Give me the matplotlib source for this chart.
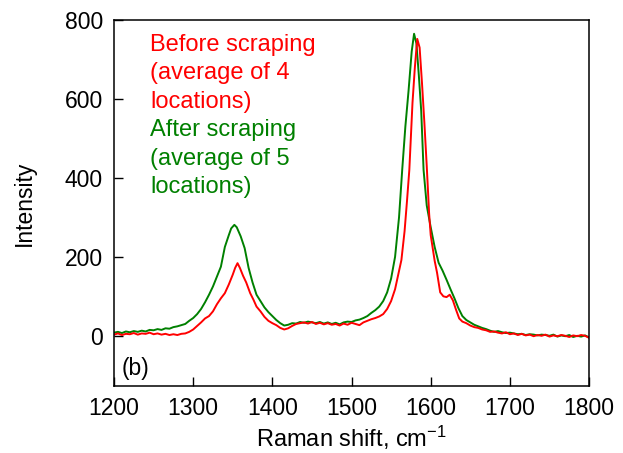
import matplotlib
matplotlib.use("Agg")
import matplotlib.pyplot as plt

plt.rcParams['font.family'] = ['Liberation Sans', 'DejaVu Sans']
plt.rcParams['mathtext.fontset'] = 'custom'
plt.rcParams['mathtext.rm'] = 'Liberation Sans'
plt.rcParams['mathtext.it'] = 'Liberation Sans'

# after scraping (average of 5 locations)
shift_after = [1200, 1205, 1210, 1215, 1220, 1225, 1230, 1235, 1240, 1245,
               1250, 1255, 1260, 1265, 1270, 1275, 1280, 1285, 1290, 1295,
               1300, 1305, 1310, 1315, 1320, 1325, 1330, 1335, 1340, 1345,
               1348, 1352, 1355, 1360, 1365, 1370, 1375, 1380, 1385, 1390,
               1395, 1400, 1405, 1410, 1415, 1420, 1425, 1430, 1435, 1440,
               1445, 1450, 1455, 1460, 1465, 1470, 1475, 1480, 1485, 1490,
               1495, 1500, 1505, 1510, 1515, 1520, 1525, 1530, 1535, 1540,
               1545, 1550, 1555, 1560, 1564, 1568, 1572, 1576, 1579, 1582,
               1585, 1588, 1591, 1595, 1600, 1605, 1610, 1615, 1620, 1625,
               1630, 1635, 1640, 1645, 1650, 1655, 1660, 1665, 1670, 1675,
               1680, 1685, 1690, 1695, 1700, 1705, 1710, 1715, 1720, 1725,
               1730, 1735, 1740, 1745, 1750, 1755, 1760, 1765, 1770, 1775,
               1780, 1785, 1790, 1795, 1800]
int_after = [8, 10, 7, 11, 9, 12, 10, 13, 11, 15,
             14, 17, 15, 19, 18, 22, 24, 27, 30, 38,
             45, 55, 68, 85, 104, 125, 150, 175, 225, 255,
             272, 281, 275, 252, 222, 172, 135, 104, 88, 72,
             60, 50, 40, 32, 26, 28, 32, 31, 35, 33,
             36, 34, 32, 35, 31, 34, 30, 33, 29, 34,
             36, 35, 39, 41, 45, 50, 58, 65, 74, 88,
             110, 145, 200, 300, 420, 530, 620, 720, 765, 740,
             660, 570, 420, 330, 275, 225, 185, 165, 142, 118,
             95, 70, 50, 40, 34, 28, 24, 20, 17, 13,
             10, 12, 9, 7, 8, 6, 4, 5, 2, 4,
             3, 1, 3, 2, 0, 3, -2, 1, -1, 2,
             -3, 0, -2, 1, -4]

# before scraping (average of 4 locations)
shift_before = [1200, 1205, 1210, 1215, 1220, 1225, 1230, 1235, 1240, 1245,
                1250, 1255, 1260, 1265, 1270, 1275, 1280, 1285, 1290, 1295,
                1300, 1305, 1310, 1315, 1320, 1325, 1330, 1335, 1340, 1345,
                1350, 1353, 1356, 1359, 1363, 1367, 1372, 1376, 1380, 1385,
                1390, 1395, 1400, 1405, 1410, 1415, 1420, 1425, 1430, 1435,
                1440, 1445, 1450, 1455, 1460, 1465, 1470, 1475, 1480, 1485,
                1490, 1495, 1500, 1505, 1510, 1515, 1520, 1525, 1530, 1535,
                1540, 1545, 1550, 1555, 1559, 1563, 1567, 1570, 1573, 1577,
                1580, 1583, 1586, 1589, 1592, 1595, 1598, 1600, 1605, 1608,
                1612, 1616, 1620, 1624, 1628, 1632, 1636, 1640, 1645, 1650,
                1655, 1660, 1665, 1670, 1675, 1680, 1685, 1690, 1695, 1700,
                1705, 1710, 1715, 1720, 1725, 1730, 1735, 1740, 1745, 1750,
                1755, 1760, 1765, 1770, 1775, 1780, 1785, 1790, 1795, 1800]
int_before = [3, 6, 2, 5, 4, 7, 3, 6, 5, 8,
              4, 6, 3, 5, 2, 4, 2, 5, 6, 10,
              16, 25, 34, 44, 50, 62, 80, 95, 108, 130,
              155, 172, 184, 172, 152, 135, 108, 92, 74, 62,
              48, 38, 32, 27, 20, 16, 19, 25, 30, 32,
              34, 31, 35, 30, 33, 29, 32, 28, 30, 26,
              31, 28, 33, 30, 27, 34, 38, 42, 45, 49,
              55, 68, 88, 118, 155, 192, 265, 340, 420, 590,
              680, 752, 730, 640, 540, 430, 310, 255, 190, 160,
              110, 100, 98, 104, 90, 66, 44, 36, 32, 26,
              22, 20, 16, 14, 10, 11, 8, 6, 9, 4,
              6, 2, 5, 1, 3, -1, 2, 0, 3, -2,
              1, -1, 2, 0, -3, 1, -1, 2, 0, -5]

before_lines = ["Before scraping", "(average of 4", "locations)"]
after_lines = ["After scraping", "(average of 5", "locations)"]

FS = 16.5

fig = plt.figure(figsize=(6.23, 4.53), dpi=100)
ax = fig.add_axes([0.183, 0.148, 0.7625, 0.808])

ax.plot(shift_after, int_after, color='#008000', linewidth=1.4)
ax.plot(shift_before, int_before, color='#ff0000', linewidth=1.4)

ax.set_xlim(1200, 1800)
ax.set_ylim(-127, 800)
ax.set_xticks([1200, 1300, 1400, 1500, 1600, 1700, 1800])
ax.set_yticks([0, 200, 400, 600, 800])
ax.tick_params(direction='in', length=6.5, width=1, labelsize=FS, pad=8,
               top=False, right=False)
for sp in ax.spines.values():
    sp.set_linewidth(1.1)

ax.set_xlabel('Raman shift, cm$^{-1}$', fontsize=17, labelpad=3)
ax.set_ylabel('Intensity', fontsize=FS, labelpad=21)

# annotation text, one line at a time
y0 = 0.915
step = 0.0776
for i, s in enumerate(before_lines):
    ax.text(0.076, y0 - i * step, s, color='#ff0000', fontsize=17,
            transform=ax.transAxes, va='baseline')
for i, s in enumerate(after_lines):
    ax.text(0.076, y0 - (i + 3) * step, s, color='#008000', fontsize=17,
            transform=ax.transAxes, va='baseline')

ax.text(0.016, 0.03, '(b)', fontsize=FS, transform=ax.transAxes,
        va='baseline')

fig.savefig('out.png', dpi=100)
